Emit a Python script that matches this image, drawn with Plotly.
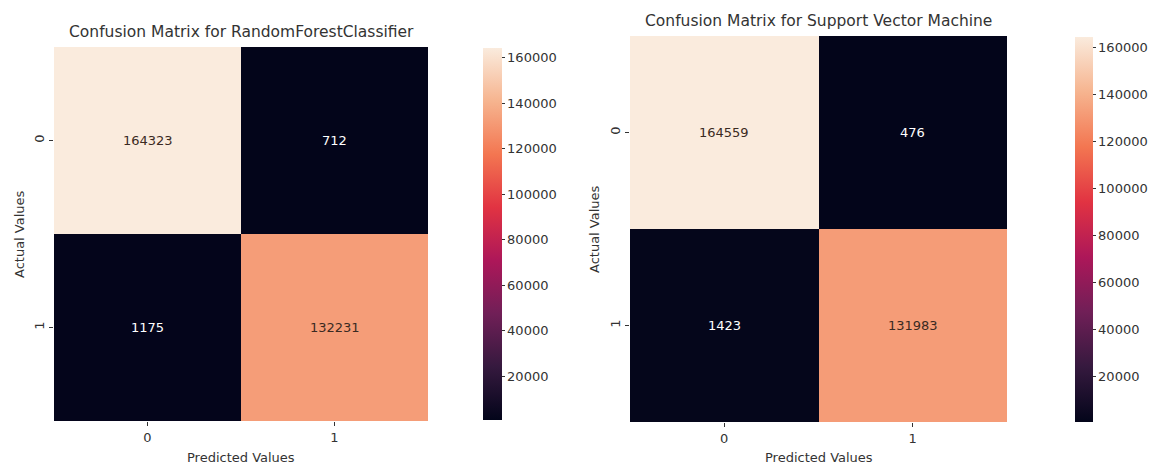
import plotly.graph_objects as go

W, H = 1165, 467

labels = ["0", "1"]
rf_title = "Confusion Matrix for RandomForestClassifier"
svm_title = "Confusion Matrix for Support Vector Machine"
rf_matrix = [[164323, 712], [1175, 132231]]
svm_matrix = [[164559, 476], [1423, 131983]]
cbar_ticks = [20000, 40000, 60000, 80000, 100000, 120000, 140000, 160000]

rocket = [
    [0.0, "#03051A"],
    [1 / 7, "#35193E"],
    [2 / 7, "#701F57"],
    [3 / 7, "#AD1759"],
    [4 / 7, "#E13342"],
    [5 / 7, "#F37651"],
    [6 / 7, "#F6B48F"],
    [1.0, "#FAEBDD"],
]

FONT = "DejaVu Sans"
TXT = "#333333"
TICK = 13
TITLE = 15.5
LAB = 13

def px_x(v):
    return v / W

def px_y(v):
    return 1 - v / H

panels = [
    dict(z=rf_matrix, title=rf_title, x0=54, x1=428, y0=47, y1=421,
         cb_x0=483, cb_w=19, cb_y0=48, cb_y1=420, title_y=32, ylab_x=19),
    dict(z=svm_matrix, title=svm_title, x0=630, x1=1007, y0=36, y1=422,
         cb_x0=1075, cb_w=18, cb_y0=37, cb_y1=422, title_y=21, ylab_x=595),
]

fig = go.Figure()
annotations = []
layout_axes = {}

for i, p in enumerate(panels):
    n = i + 1
    xa = "x" if n == 1 else f"x{n}"
    ya = "y" if n == 1 else f"y{n}"
    z = p["z"]
    flat = [v for row in z for v in row]
    zmin, zmax = min(flat), max(flat)
    fig.add_trace(go.Heatmap(
        z=z, x=[0, 1], y=[0, 1], xaxis=xa, yaxis=ya,
        colorscale=rocket, zmin=zmin, zmax=zmax,
        hoverinfo="skip",
        colorbar=dict(
            x=px_x(p["cb_x0"]), xanchor="left", xpad=0,
            y=px_y(p["cb_y0"]), yanchor="top", ypad=0,
            len=(p["cb_y1"] - p["cb_y0"]) / H, lenmode="fraction",
            thickness=p["cb_w"], thicknessmode="pixels",
            outlinewidth=0,
            tickvals=cbar_ticks, ticktext=[str(t) for t in cbar_ticks],
            ticks="outside", ticklen=3, tickcolor=TXT,
            tickfont=dict(family=FONT, size=TICK, color=TXT),
        ),
    ))
    for r in range(2):
        for c in range(2):
            v = z[r][c]
            frac = (v - zmin) / (zmax - zmin)
            annotations.append(dict(
                x=c, y=r, xref=xa, yref=ya, text=str(v), showarrow=False,
                font=dict(family=FONT, size=TICK,
                          color="#3a2a22" if frac > 0.5 else "#FFFFFF"),
            ))
    xk = "xaxis" if n == 1 else f"xaxis{n}"
    yk = "yaxis" if n == 1 else f"yaxis{n}"
    layout_axes[xk] = dict(
        domain=[px_x(p["x0"]), px_x(p["x1"])], anchor=ya,
        range=[-0.5, 1.5], tickvals=[0, 1], ticktext=labels,
        ticks="outside", ticklen=4, tickcolor=TXT,
        tickfont=dict(family=FONT, size=TICK, color=TXT),
        showgrid=False, zeroline=False, showline=False, fixedrange=True,
    )
    layout_axes[yk] = dict(
        domain=[px_y(p["y1"]), px_y(p["y0"])], anchor=xa,
        range=[1.5, -0.5], tickvals=[0, 1], ticktext=labels,
        tickangle=-90,
        ticks="outside", ticklen=4, tickcolor=TXT,
        tickfont=dict(family=FONT, size=TICK, color=TXT),
        showgrid=False, zeroline=False, showline=False, fixedrange=True,
    )
    cx = (p["x0"] + p["x1"]) / 2
    cy = (p["y0"] + p["y1"]) / 2
    annotations.append(dict(
        x=px_x(cx), y=px_y(p["title_y"]), xref="paper", yref="paper",
        text=p["title"], showarrow=False, xanchor="center", yanchor="middle",
        font=dict(family=FONT, size=TITLE, color=TXT),
    ))
    annotations.append(dict(
        x=px_x(cx), y=px_y(457), xref="paper", yref="paper",
        text="Predicted Values", showarrow=False, xanchor="center", yanchor="middle",
        font=dict(family=FONT, size=LAB, color=TXT),
    ))
    annotations.append(dict(
        x=px_x(p["ylab_x"]), y=px_y(cy), xref="paper", yref="paper",
        text="Actual Values", showarrow=False, textangle=-90,
        xanchor="center", yanchor="middle",
        font=dict(family=FONT, size=LAB, color=TXT),
    ))

fig.update_layout(
    width=W, height=H,
    margin=dict(l=0, r=0, t=0, b=0),
    paper_bgcolor="white", plot_bgcolor="white",
    annotations=annotations,
    showlegend=False,
    **layout_axes,
)

fig.write_html(
    "out.html",
    config={"displayModeBar": False},
    post_script="document.body.style.margin='0';document.body.style.overflow='hidden';",
)
